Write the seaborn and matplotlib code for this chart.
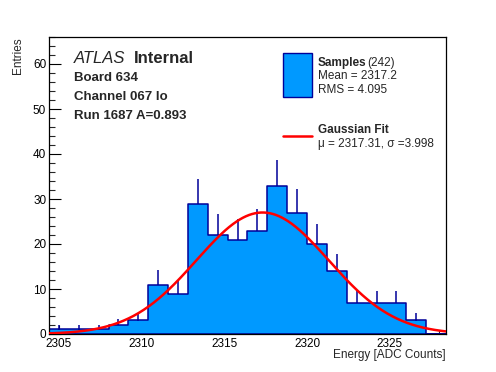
import matplotlib
matplotlib.use('Agg')
import matplotlib.pyplot as plt
from matplotlib.patches import Rectangle
from matplotlib.lines import Line2D
from matplotlib.ticker import MultipleLocator
import numpy as np
import pandas as pd
import seaborn as sns

W, H = 496, 372

# histogram: 20 bins of 1.2 ADC counts
bin_lo = 2304.4
bin_width = 1.2
counts = [1, 1, 1, 2, 3, 11, 9, 29, 22, 21, 23, 33, 27, 20, 14, 7, 7, 7, 3, 0]

# gaussian fit result
fit_mu = 2317.31
fit_sigma = 3.998
fit_amp = 27.0

labels_left = ['Board 634', 'Channel 067 lo', 'Run 1687 A=0.893']
n_samples = 242
mean_txt = 'Mean = 2317.2'
rms_txt = 'RMS = 4.095'

FILL = '#0099ff'
EDGE = '#000099'


def px(x, y):
    return x / W, 1 - y / H


sns.set_style('white')
plt.rcParams['font.family'] = ['Liberation Sans', 'DejaVu Sans']

edges = bin_lo + bin_width * np.arange(len(counts) + 1)
centers = (edges[:-1] + edges[1:]) / 2
counts = np.array(counts, dtype=float)
df = pd.DataFrame({'energy': centers, 'n': counts})

fig = plt.figure(figsize=(W / 100, H / 100), dpi=100)
fig.subplots_adjust(left=49 / W, right=446 / W, bottom=1 - 334 / H, top=1 - 37 / H)
ax = fig.add_subplot(111)

sns.histplot(data=df, x='energy', weights='n', bins=list(edges), element='step', fill=True,
             color=FILL, alpha=1, edgecolor=EDGE, linewidth=1.1, ax=ax)

# upper error bars
mask = counts > 0
ax.vlines(centers[mask], counts[mask], counts[mask] + np.sqrt(counts[mask]),
          color=EDGE, lw=1.1, zorder=3)

xs = np.linspace(edges[0], edges[-1], 400)
ys = fit_amp * np.exp(-0.5 * ((xs - fit_mu) / fit_sigma) ** 2)
sns.lineplot(x=xs, y=ys, color='red', lw=1.8, ax=ax, zorder=4)

ax.set_xlim(edges[0], edges[-1])
ax.set_ylim(0, 66)
ax.set_xlabel('')
ax.set_ylabel('')
ax.xaxis.set_major_locator(MultipleLocator(5))
ax.xaxis.set_minor_locator(MultipleLocator(1))
ax.yaxis.set_major_locator(MultipleLocator(10))
ax.yaxis.set_minor_locator(MultipleLocator(2))
ax.tick_params(axis='x', which='major', direction='in', length=6.5, width=0.8,
               labelsize=8.5, pad=3, colors='black')
ax.tick_params(axis='x', which='minor', direction='in', length=3.2, width=0.8)
ax.tick_params(axis='y', which='major', direction='in', length=8.6, width=0.8,
               labelsize=8.5, pad=2, colors='black')
ax.tick_params(axis='y', which='minor', direction='in', length=4.3, width=0.8)
ax.tick_params(top=False, right=False, bottom=True, left=True, which='both')
for s in ax.spines.values():
    s.set_color('black')
    s.set_linewidth(0.9)

fig.text(*px(446, 358), 'Energy [ADC Counts]', ha='right', va='baseline', fontsize=8.5)
fig.text(*px(18, 37), 'Entries', ha='center', va='top', rotation=90, fontsize=8.5)

fig.text(*px(74, 63), 'ATLAS', ha='left', va='baseline', fontsize=12, style='italic')
fig.text(*px(134, 63), 'Internal', ha='left', va='baseline', fontsize=12, weight='bold')
for lab, yb in zip(labels_left, [81, 100, 119]):
    fig.text(*px(74, yb), lab, ha='left', va='baseline', fontsize=9.5, weight='bold')

# legend
x0, y0 = px(283, 97)
x1, y1 = px(312, 53)
fig.add_artist(Rectangle((x0, y0), x1 - x0, y1 - y0, transform=fig.transFigure,
                         facecolor=FILL, edgecolor=EDGE, lw=1))
fig.text(*px(318, 66), 'Samples', ha='left', va='baseline', fontsize=8.5, weight='bold')
fig.text(*px(367, 66), f'({n_samples})', ha='left', va='baseline', fontsize=8.5)
fig.text(*px(318, 79), mean_txt, ha='left', va='baseline', fontsize=8.5)
fig.text(*px(318, 93), rms_txt, ha='left', va='baseline', fontsize=8.5)

lx0, ly = px(283, 136)
lx1, _ = px(312, 136)
fig.add_artist(Line2D([lx0, lx1], [ly, ly], transform=fig.transFigure, color='red', lw=1.8))
fig.text(*px(318, 133), 'Gaussian Fit', ha='left', va='baseline', fontsize=8.5, weight='bold')
fig.text(*px(318, 147), f'\u03bc = {fit_mu}, \u03c3 ={fit_sigma}', ha='left', va='baseline',
         fontsize=8.5)

fig.savefig('out.png', dpi=100)
